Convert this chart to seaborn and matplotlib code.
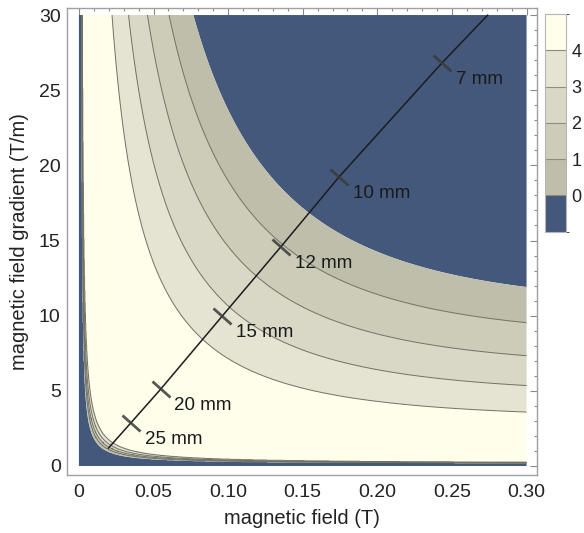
import numpy as np
import matplotlib
matplotlib.use("Agg")
import matplotlib.pyplot as plt
import seaborn as sns
from matplotlib.colors import ListedColormap, BoundaryNorm
from matplotlib.cm import ScalarMappable
from matplotlib.markers import MarkerStyle
from matplotlib.transforms import Affine2D
from matplotlib.ticker import MultipleLocator, FixedLocator, FixedFormatter

# ---------------- values ----------------
level_values = [0, 1, 2, 3, 4]                       # legend / contour levels
band_colors = ["#44587b", "#bfbeaa", "#cdccb9", "#d9d8c6", "#e5e4d3", "#fefeeb"]

# upper-right contour family: field-gradient product G*tanh(B/B_SAT)
B_SAT = 0.206                                        # T
upper_force_levels = [10.67, 8.55, 6.58, 4.80, 3.22]  # at levels 0,1,2,3,4
# lower-left contour family: (B-B_OFF)*(G-G_OFF)
B_OFF = 0.0012
G_OFF = 0.14
lower_levels = [0.015, 0.018, 0.021, 0.025, 0.030]   # at levels 0,1,2,3,4

line_B = [0.0197, 0.0349, 0.0547, 0.0961, 0.1354, 0.1745, 0.2431, 0.274]
line_G = [1.18, 2.88, 5.10, 9.98, 14.59, 19.25, 26.79, 30.0]
marker_labels = ["25 mm", "20 mm", "15 mm", "12 mm", "10 mm", "7 mm"]
marker_B = [0.0349, 0.0547, 0.0961, 0.1354, 0.1745, 0.2431]
marker_G = [2.88, 5.10, 9.98, 14.59, 19.25, 26.79]

x_ticks = [0, 0.05, 0.10, 0.15, 0.20, 0.25, 0.30]
x_ticklabels = ["0", "0.05", "0.10", "0.15", "0.20", "0.25", "0.30"]
y_ticks = [0, 5, 10, 15, 20, 25, 30]
y_ticklabels = ["0", "5", "10", "15", "20", "25", "30"]

# ---------------- style ----------------
sns.set_style("white")
plt.rcParams["font.family"] = ["Liberation Sans", "DejaVu Sans"]

fig = plt.figure(figsize=(5.84, 5.33), dpi=100)
ax = fig.add_axes([0.1147, 0.1088, 0.8048, 0.8771])

# ---------------- field ----------------
Bg = np.linspace(0, 0.3, 1501)
Gg = np.linspace(0, 30, 1501)
BB, GG = np.meshgrid(Bg, Gg)

F = GG * np.tanh(BB / B_SAT)
xp_up = [0.0] + upper_force_levels[::-1] + [40.0]
fp_up = [5.0] + level_values[::-1] + [-1.0]
f_up = np.interp(F, xp_up, fp_up)

Q = (BB - B_OFF) * (GG - G_OFF)
Q = np.where((BB > B_OFF) & (GG > G_OFF), Q, -1.0)
xp_lo = [-1.0] + lower_levels + [1.0]
fp_lo = [-1.0] + level_values + [5.0]
f_lo = np.interp(Q, xp_lo, fp_lo)

field = np.minimum(f_up, f_lo)

ax.contourf(BB, GG, field, levels=[-1.5, 0, 1, 2, 3, 4, 5.5], colors=band_colors,
            antialiased=True)
ax.contour(BB, GG, field, levels=level_values[1:], colors="#707063", linewidths=0.7)

# ---------------- diameter line with markers ----------------
sns.lineplot(x=line_B, y=line_G, sort=False, estimator=None, color="#1c1c1c",
             linewidth=1.1, ax=ax, legend=False)
tick_marker = MarkerStyle("_", transform=Affine2D().rotate_deg(139))
ax.plot(marker_B, marker_G, linestyle="none", marker=tick_marker, markersize=17,
        markeredgewidth=2.0, color="#3a3a3a", alpha=0.85)
for lbl, b, g in zip(marker_labels, marker_B, marker_G):
    ax.annotate(lbl, (b, g), xytext=(10, -12), textcoords="offset points",
                fontsize=13.5, color="#1a1a1a", ha="left", va="center")

# ---------------- axes ----------------
ax.set_xlim(-0.008, 0.307)
ax.set_ylim(-0.6, 30.5)
ax.xaxis.set_major_locator(FixedLocator(x_ticks))
ax.xaxis.set_major_formatter(FixedFormatter(x_ticklabels))
ax.yaxis.set_major_locator(FixedLocator(y_ticks))
ax.yaxis.set_major_formatter(FixedFormatter(y_ticklabels))
ax.xaxis.set_minor_locator(MultipleLocator(0.01))
ax.yaxis.set_minor_locator(MultipleLocator(1))
ax.tick_params(axis="both", which="both", direction="in", top=True, right=True,
               color="#8a8a8a", width=0.8)
ax.tick_params(axis="both", which="major", length=5, labelsize=14, labelcolor="#222222")
ax.tick_params(axis="both", which="minor", length=2.5)
ax.tick_params(axis="x", which="major", pad=6.5)
ax.tick_params(axis="y", which="major", pad=4.5)
for sp in ax.spines.values():
    sp.set_color("#a0a0a0")
    sp.set_linewidth(1.0)
ax.set_xlabel("magnetic field (T)", fontsize=14.5, color="#222222", labelpad=6)
ax.set_ylabel("magnetic field gradient (T/m)", fontsize=14.5, color="#222222", labelpad=7)

# ---------------- legend bar ----------------
cax = fig.add_axes([0.933, 0.5653, 0.036, 0.4084])
cmap = ListedColormap(band_colors)
norm = BoundaryNorm([-1, 0, 1, 2, 3, 4, 5], cmap.N)
cb = fig.colorbar(ScalarMappable(norm=norm, cmap=cmap), cax=cax, ticks=level_values,
                  drawedges=True)
cb.outline.set_edgecolor("#b5b5b5")
cb.outline.set_linewidth(0.8)
cb.dividers.set_color("#8d8d80")
cb.dividers.set_linewidth(0.8)
cax.tick_params(length=0, labelsize=13, pad=4, labelcolor="#222222")

fig.savefig("out.png", dpi=100)
